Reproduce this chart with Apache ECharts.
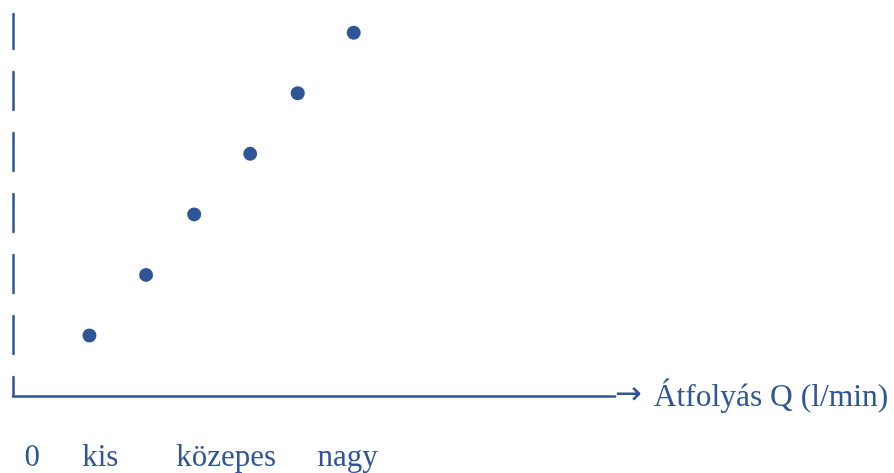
<!DOCTYPE html>
<html>
<head>
<meta charset="utf-8">
<script src="https://cdn.jsdelivr.net/npm/echarts@6/dist/echarts.min.js"></script>
<style>
html,body{margin:0;padding:0;background:#fff;}
#c{width:894px;height:473px;}
</style>
</head>
<body>
<div id="c"></div>
<script>
// Data
const xValues = [12.7, 22.1, 30.1, 39.4, 47.3, 56.6];
const yValues = [1, 2, 3, 4, 5, 6];
const tickLabels = ['0', 'kis', 'közepes', 'nagy'];
const tickPositions = [3.2, 14.5, 35.4, 55.6];
const xArrow = '→';
const xName = 'Átfolyás Q (l/min)';

const blue = '#2F5597';
const font = '"Liberation Serif", "Times New Roman", serif';

const chart = echarts.init(document.getElementById('c'));
chart.setOption({
  animation: false,
  grid: { left: 13, right: 279, top: 14, bottom: 75, containLabel: false },
  xAxis: {
    type: 'value',
    min: 0,
    max: 100,
    name: '{a|' + xArrow + '}{b| ' + xName + '}',
    nameLocation: 'end',
    nameGap: 0,
    nameTextStyle: {
      color: blue, fontFamily: font, fontSize: 31, verticalAlign: 'middle',
      rich: {
        a: { color: blue, fontFamily: '"DejaVu Sans"', fontSize: 32, padding: [0, 0, 1, 0] },
        b: { color: blue, fontFamily: font, fontSize: 31.5, padding: [3, 0, 0, 4] }
      }
    },
    axisLine: { show: true, lineStyle: { color: blue, width: 2.5 } },
    axisTick: { show: false },
    splitLine: { show: false },
    axisLabel: {
      show: true,
      customValues: tickPositions,
      margin: 46,
      color: blue,
      fontFamily: font,
      fontSize: 31,
      formatter: function (v) {
        const i = tickPositions.indexOf(v);
        return i >= 0 ? tickLabels[i] : '';
      }
    }
  },
  yAxis: {
    type: 'value',
    min: 0,
    max: 6.31,
    axisLine: {
      show: true,
      lineStyle: { color: blue, width: 2.5, type: [38, 23], dashOffset: 19 }
    },
    axisTick: { show: false },
    axisLabel: { show: false },
    splitLine: { show: false }
  },
  series: [{
    type: 'scatter',
    symbol: 'circle',
    symbolSize: 14,
    itemStyle: { color: blue, opacity: 1 },
    data: xValues.map((x, i) => [x, yValues[i]])
  }]
});
</script>
</body>
</html>
